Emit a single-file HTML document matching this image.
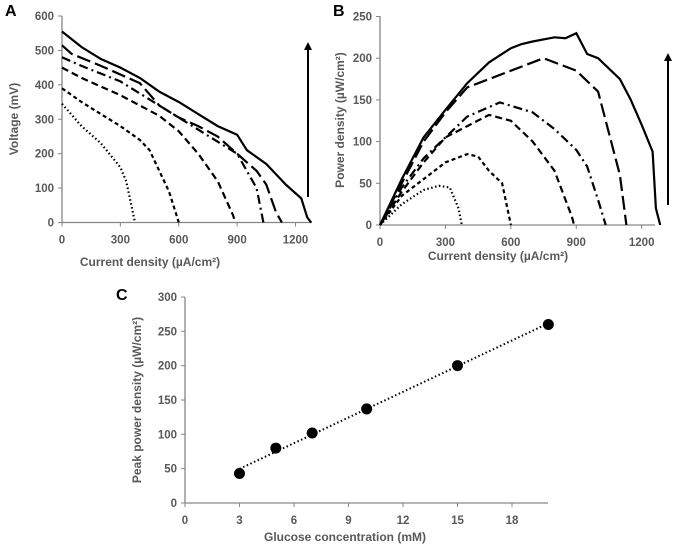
<!DOCTYPE html>
<html><head><meta charset="utf-8"><style>
body{margin:0;background:#fff}
svg{display:block;font-family:"Liberation Sans",sans-serif}
.tk{fill:#595959;font-size:11.5px;font-weight:bold}
.tt{fill:#595959;font-size:12px;font-weight:bold}
.pl{fill:#000;font-size:16px;font-weight:bold}
</style></head><body>
<svg id="fig" width="675" height="546"></svg>
<script>
// Panel A: voltage vs current density
const aSolidI=[0,100,200,300,400,500,600,700,800,900,950,1050,1150,1230,1260,1280];
const aSolidV=[555,510,475,450,420,380,350,315,280,255,210,170,110,70,15,0];
const aLongI=[0,50,200,400,500,600,700,800,900,1000,1050,1100,1130];
const aLongV=[515,490,455,405,340,305,280,250,200,150,110,30,0];
const aDashDotI=[0,100,300,500,700,900,1000,1035];
const aDashDotV=[480,455,410,340,270,200,100,0];
const aDashI=[0,100,300,500,600,700,800,880,890];
const aDashV=[450,420,370,310,265,200,120,20,0];
const aShortI=[0,100,200,300,400,450,500,550,600];
const aShortV=[390,350,315,280,240,210,150,90,0];
const aDotI=[0,100,200,300,330,360,375];
const aDotV=[345,280,230,160,120,40,0];
// Panel B: power density vs current density
const bSolidI=[0,100,200,300,400,500,600,650,700,800,850,900,950,1000,1100,1150,1200,1250,1265,1285];
const bSolidP=[0,55,105,138,170,195,212,217,220,225,224,230,205,200,175,150,120,88,20,0];
const bLongI=[0,100,200,300,400,500,600,750,900,1000,1050,1100,1130];
const bLongP=[0,50,100,135,165,175,185,200,185,160,110,60,0];
const bDashDotI=[0,100,200,400,550,700,800,900,950,1000,1035];
const bDashDotP=[0,45,80,130,147,135,115,90,70,30,0];
const bDashI=[0,100,200,300,500,600,700,800,880,890];
const bDashP=[0,40,75,105,132,125,100,65,10,0];
const bShortI=[0,100,200,300,400,450,500,560,600];
const bShortP=[0,35,55,75,85,82,65,50,0];
const bDotI=[0,100,200,270,320,360,375];
const bDotP=[0,25,42,47,45,20,0];
// Panel C
const cConc=[3,5,7,10,15,20];
const cPeak=[43,80,102,137,200,260];
const xTicksAB=[0,300,600,900,1200];
const yTicksA=[0,100,200,300,400,500,600];
const yTicksB=[0,50,100,150,200,250];
const xTicksC=[0,3,6,9,12,15,18];
const yTicksC=[0,50,100,150,200,250,300];

const NS="http://www.w3.org/2000/svg";
const svg=document.getElementById('fig');
function mk(tag,attrs,parent){const e=document.createElementNS(NS,tag);for(const k in attrs)e.setAttribute(k,attrs[k]);(parent||svg).appendChild(e);return e;}
function txt(x,y,s,cls,anchor,rot){const t=mk('text',{x:x,y:y,class:cls,'text-anchor':anchor||'middle'});if(rot)t.setAttribute('transform','rotate(-90 '+x+' '+y+')');t.textContent=s;return t;}

function axes(g,x0,x1,y0,y1,xt,xs,yt,ys){
  mk('line',{x1:x0,y1:y0,x2:x0,y2:y1,stroke:'#868686','stroke-width':1.3},g);
  mk('line',{x1:x0,y1:y0,x2:x1,y2:y0,stroke:'#868686','stroke-width':1.3},g);
  xt.forEach(v=>{const X=xs(v);mk('line',{x1:X,y1:y0,x2:X,y2:y0+4,stroke:'#868686'},g);const t=txt(X,y0+21,String(v),'tk');g.appendChild(t);});
  yt.forEach(v=>{const Y=ys(v);mk('line',{x1:x0-4,y1:Y,x2:x0,y2:Y,stroke:'#868686'},g);const t=txt(x0-8,Y+4,String(v),'tk','end');g.appendChild(t);});
}
function line(g,xs,ys,X,Y,dash,name){
  const d=X.map((v,i)=>(i?'L':'M')+xs(v).toFixed(1)+','+ys(Y[i]).toFixed(1)).join(' ');
  const p=mk('path',{d:d,fill:'none',stroke:'#000','stroke-width':2.2,'stroke-dasharray':dash},g);
  
  
}
const dashes={solid:'none',long:'14,5',dashdot:'9,4,2,4',dash:'7,4',short:'4,3',dot:'1.5,2.5'};

// Panel A
const gA=mk('g',{});


const axA=v=>62+v*233.5/1200, ayA=v=>222.5-v*206.5/600;
axes(gA,62,312,222.5,16,xTicksAB,axA,yTicksA,ayA);
line(gA,axA,ayA,aSolidI,aSolidV,dashes.solid,'a-series-solid');
line(gA,axA,ayA,aLongI,aLongV,dashes.long,'a-series-long-dash');
line(gA,axA,ayA,aDashDotI,aDashDotV,dashes.dashdot,'a-series-dash-dot');
line(gA,axA,ayA,aDashI,aDashV,dashes.dash,'a-series-dash');
line(gA,axA,ayA,aShortI,aShortV,dashes.short,'a-series-short-dash');
line(gA,axA,ayA,aDotI,aDotV,dashes.dot,'a-series-dotted');
gA.appendChild(txt(150,266,'Current density (µA/cm²)','tt'));
gA.appendChild(txt(18,119,'Voltage (mV)','tt','middle',true));
gA.appendChild(txt(5,16,'A','pl','start'));

// Panel B
const gB=mk('g',{});


const axB=v=>380+v*261.7/1200, ayB=v=>225-v*208.5/250;
axes(gB,380,655,225,16,xTicksAB,axB,yTicksB,ayB);
line(gB,axB,ayB,bSolidI,bSolidP,dashes.solid,'b-series-solid');
line(gB,axB,ayB,bLongI,bLongP,dashes.long,'b-series-long-dash');
line(gB,axB,ayB,bDashDotI,bDashDotP,dashes.dashdot,'b-series-dash-dot');
line(gB,axB,ayB,bDashI,bDashP,dashes.dash,'b-series-dash');
line(gB,axB,ayB,bShortI,bShortP,dashes.short,'b-series-short-dash');
line(gB,axB,ayB,bDotI,bDotP,dashes.dot,'b-series-dotted');
gB.appendChild(txt(498,260,'Current density (µA/cm²)','tt'));
gB.appendChild(txt(344,120,'Power density (µW/cm²)','tt','middle',true));
gB.appendChild(txt(333,16,'B','pl','start'));

// arrows
[[308,197,42,'arrow-a'],[668,205,53,'arrow-b']].forEach(a=>{
  const l=mk('line',{x1:a[0],y1:a[1],x2:a[0],y2:a[2]+6,stroke:'#000','stroke-width':2});
  
  
  mk('polygon',{points:(a[0]-4)+','+(a[2]+8)+' '+(a[0]+4)+','+(a[2]+8)+' '+a[0]+','+a[2],fill:'#000'});
});

// Panel C
const gC=mk('g',{});


const axC=v=>185+v*327/18, ayC=v=>503-v*206/300;
axes(gC,185,548,503,297,xTicksC,axC,yTicksC,ayC);
const n=cConc.length,mx=cConc.reduce((a,b)=>a+b)/n,my=cPeak.reduce((a,b)=>a+b)/n;
let sxy=0,sxx=0;cConc.forEach((x,i)=>{sxy+=(x-mx)*(cPeak[i]-my);sxx+=(x-mx)*(x-mx);});
const slope=sxy/sxx,icpt=my-slope*mx;
const xa=cConc[0],xb=cConc[n-1];
const tl=mk('line',{x1:axC(xa),y1:ayC(icpt+slope*xa),x2:axC(xb),y2:ayC(icpt+slope*xb),stroke:'#000','stroke-width':2,'stroke-dasharray':'1.5,2.5'},gC);


cConc.forEach((c,i)=>{
  const p=mk('circle',{cx:axC(c),cy:ayC(cPeak[i]),r:5.5,fill:'#000'},gC);
  
  
});
gC.appendChild(txt(345,541,'Glucose concentration (mM)','tt'));
gC.appendChild(txt(141,400,'Peak power density (µW/cm²)','tt','middle',true));
gC.appendChild(txt(116,300,'C','pl','start'));
</script>
</body></html>
